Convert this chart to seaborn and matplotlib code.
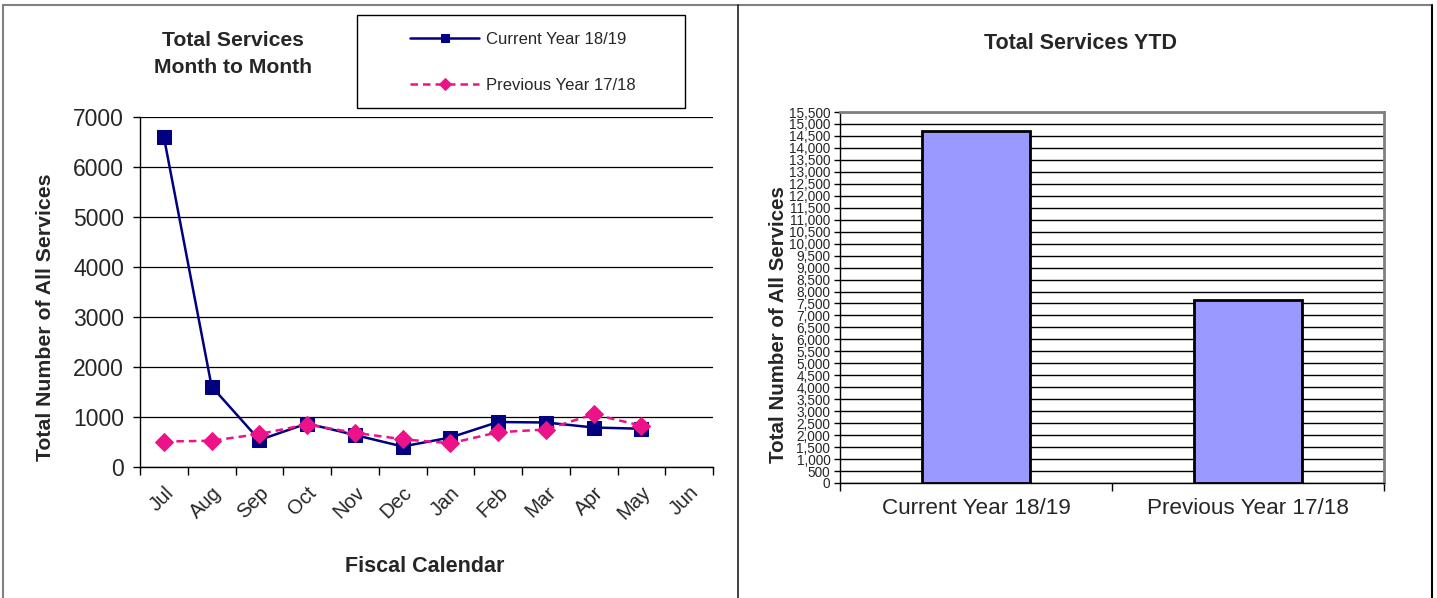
import numpy as np
import pandas as pd
import matplotlib
matplotlib.use("Agg")
import matplotlib.pyplot as plt
import matplotlib.transforms as mtransforms
from matplotlib.patches import Rectangle
from matplotlib.lines import Line2D
from matplotlib.ticker import FuncFormatter, FixedLocator
import seaborn as sns

# Monthly service counts (fiscal year starts in July)
months = ["Jul", "Aug", "Sep", "Oct", "Nov", "Dec", "Jan", "Feb", "Mar", "Apr", "May", "Jun"]
current_year = [6600, 1610, 540, 870, 640, 410, 590, 900, 890, 790, 765]
previous_year = [510, 525, 660, 850, 685, 555, 475, 695, 750, 1055, 825]

# Year-to-date totals
ytd_labels = ["Current Year 18/19", "Previous Year 17/18"]
ytd_values = [14700, 7650]

sns.set_theme(style="white")
plt.rcParams["font.family"] = ["Liberation Sans", "DejaVu Sans"]

W, H = 1437, 598
fig = plt.figure(figsize=(W / 100, H / 100), dpi=100)
fig.patch.set_facecolor("white")

def fx(px):
    return px / W

def fy(py):
    return 1 - py / H

NAVY = "#000080"
PINK = "#EE1289"

# ---------------- panel frames ----------------
frame_gray = "#808080"
fig.add_artist(Line2D([fx(3), fx(738)], [fy(5), fy(5)], color=frame_gray, lw=1.5, transform=fig.transFigure))
fig.add_artist(Line2D([fx(3), fx(3)], [fy(5), 0], color=frame_gray, lw=1.5, transform=fig.transFigure))
fig.add_artist(Line2D([fx(738), fx(1432)], [fy(5), fy(5)], color=frame_gray, lw=1.5, transform=fig.transFigure))
fig.add_artist(Line2D([fx(738), fx(738)], [fy(5), 0], color="#202020", lw=1.2, transform=fig.transFigure))
fig.add_artist(Line2D([fx(1432), fx(1432)], [fy(5), 0], color="black", lw=1.5, transform=fig.transFigure))

# ---------------- month to month line chart ----------------
x0, x1, y0, y1 = 140, 713, 467, 117
ax = fig.add_axes([fx(x0), fy(y0), fx(x1) - fx(x0), fy(y1) - fy(y0)])
idx_cur = np.arange(len(current_year))
idx_prev = np.arange(len(previous_year))

sns.lineplot(x=idx_cur, y=current_year, ax=ax, color=NAVY, linewidth=1.8,
             marker="s", markersize=10, markeredgecolor=NAVY, markerfacecolor=NAVY,
             label="Current Year 18/19", zorder=3)
sns.lineplot(x=idx_prev, y=previous_year, ax=ax, color=PINK, linewidth=1.8,
             linestyle=(0, (3, 2)), marker="D", markersize=9.5, markeredgecolor=PINK,
             markerfacecolor=PINK, label="Previous Year 17/18", zorder=4)

ax.set_xlim(-0.5, len(months) - 0.5)
ax.set_ylim(0, 7000)
ax.set_yticks(np.arange(0, 7001, 1000))
ax.yaxis.grid(True, color="black", linewidth=0.9)
ax.xaxis.grid(False)
ax.set_axisbelow(True)
for side in ["top", "right"]:
    ax.spines[side].set_visible(False)
for side in ["left", "bottom"]:
    ax.spines[side].set_color("black")
    ax.spines[side].set_linewidth(1.0)

ax.set_xticks(np.arange(len(months)))
ax.set_xticklabels(months, rotation=45, ha="right", va="top", rotation_mode="anchor", fontsize=14.5)
shift = mtransforms.ScaledTranslation(-5 / 100, 0, fig.dpi_scale_trans)
for lbl in ax.get_xticklabels():
    lbl.set_transform(lbl.get_transform() + shift)
ax.tick_params(axis="x", which="major", length=0, pad=11.5)
ax.xaxis.set_minor_locator(FixedLocator(np.arange(-0.5, len(months), 1.0)))
ax.tick_params(axis="x", which="minor", bottom=True, length=6, width=1, color="black", direction="out")
ax.tick_params(axis="y", left=True, length=5, width=1, color="black", direction="out", labelsize=16.5, pad=6.5)

ax.set_xlabel("Fiscal Calendar", fontsize=15.5, fontweight="bold", va="center")
ax.xaxis.set_label_coords((425 - x0) / (x1 - x0), (y0 - 567) / (y0 - y1))
ax.set_ylabel("Total Number of All Services", fontsize=15.3, fontweight="bold", va="center")
ax.yaxis.set_label_coords((46 - x0) / (x1 - x0), (y0 - 317.5) / (y0 - y1))

handles, labels = ax.get_legend_handles_labels()
ax.legend(handles, labels, loc="center left", bbox_to_anchor=(fx(402), fy(62.5)),
          bbox_transform=fig.transFigure, frameon=False, borderpad=0,
          handlelength=4.1, handletextpad=0.42, labelspacing=1.85, fontsize=12,
          markerscale=0.6)
fig.add_artist(Rectangle((fx(357), fy(108)), fx(685) - fx(357), fy(15) - fy(108),
                         transform=fig.transFigure, facecolor="none", edgecolor="black", lw=1.0))

fig.text(fx(233), fy(54), "Total Services\nMonth to Month", ha="center", va="center",
         fontsize=15.2, fontweight="bold", linespacing=1.5)

# ---------------- year to date bar chart ----------------
bx0, bx1, by0, by1 = 840, 1384, 483, 112
ax2 = fig.add_axes([fx(bx0), fy(by0), fx(bx1) - fx(bx0), fy(by1) - fy(by0)])
ytd = pd.DataFrame({"period": ytd_labels, "services": ytd_values})
sns.barplot(data=ytd, x="period", y="services", ax=ax2, color="#9999FF",
            edgecolor="black", linewidth=2, width=0.4, saturation=1, zorder=3)

ax2.set_xlim(-0.5, 1.5)
ax2.set_ylim(0, 15500)
ax2.set_yticks(np.arange(0, 15501, 500))
ax2.yaxis.set_major_formatter(FuncFormatter(lambda v, p: f"{int(v):,}"))
ax2.yaxis.grid(True, color="black", linewidth=1.0)
ax2.xaxis.grid(False)
ax2.set_axisbelow(True)
for side in ["top", "right"]:
    ax2.spines[side].set_color(frame_gray)
    ax2.spines[side].set_linewidth(2)
for side in ["left", "bottom"]:
    ax2.spines[side].set_color("black")
    ax2.spines[side].set_linewidth(1.0)

ax2.tick_params(axis="y", left=True, length=4, width=1, color="black", direction="out", labelsize=9.8, pad=3)
ax2.tick_params(axis="x", which="major", length=0, labelsize=16.2, pad=10.5)
ax2.xaxis.set_minor_locator(FixedLocator([-0.5, 0.5, 1.5]))
ax2.tick_params(axis="x", which="minor", bottom=True, length=6, width=1, color="black", direction="out")
ax2.set_xlabel("")
ax2.set_ylabel("Total Number of All Services", fontsize=14.8, fontweight="bold", va="center")
ax2.yaxis.set_label_coords((778 - bx0) / (bx1 - bx0), (by0 - 325) / (by0 - by1))

fig.text(fx(1080), fy(43.5), "Total Services YTD", ha="center", va="center",
         fontsize=15.5, fontweight="bold")

fig.savefig("out.png", dpi=100, facecolor="white")
